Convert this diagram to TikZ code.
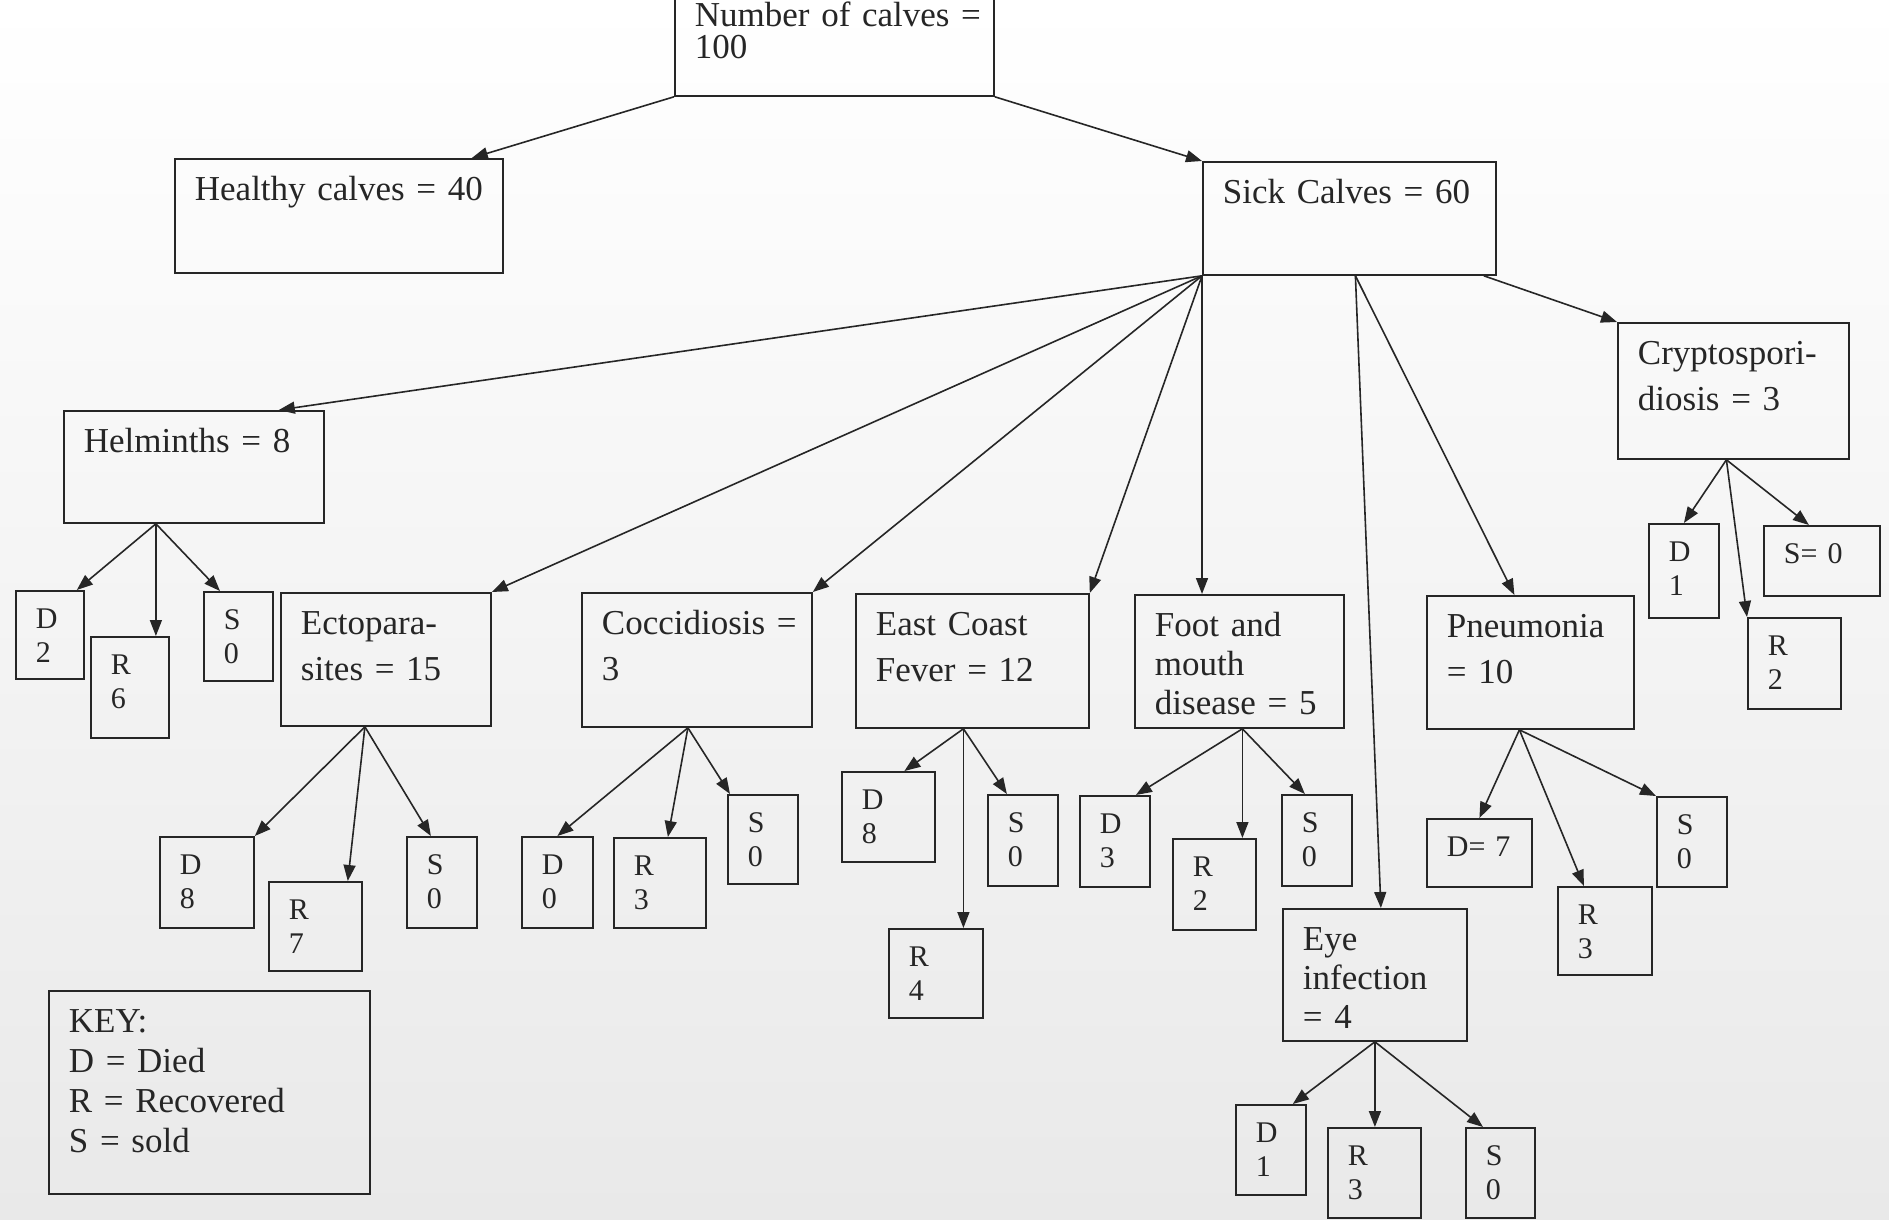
\documentclass[tikz,border=0pt]{standalone}
\usepackage{fontspec}
\setmainfont{Liberation Serif}
\usepackage{xcolor}
\definecolor{cInk}{HTML}{262626}
\definecolor{cPaper}{HTML}{E9E9E9}
\usepackage{tikz}
\usetikzlibrary{arrows.meta}
\newcommand{\boxfont}{\fontsize{35pt}{46pt}\selectfont}
\newcommand{\tallfont}{\fontsize{35pt}{39pt}\selectfont}
\newcommand{\keyfont}{\fontsize{35pt}{40pt}\selectfont}
\newcommand{\leaffont}{\fontsize{30pt}{34pt}\selectfont}
\newcommand{\rootfont}{\fontsize{35pt}{32pt}\selectfont}
\tikzset{
  node-box/.style 2 args={draw=cInk,line width=1.8pt,anchor=north west,
    align=left,inner xsep=20pt,inner ysep=12pt,text height=30pt,
    text width=#1,text depth=#2,font=\boxfont,text=cInk},
  node-leaf/.style 2 args={draw=cInk,line width=1.8pt,anchor=north west,
    align=left,inner xsep=20pt,inner ysep=10pt,text height=28pt,
    text width=#1,text depth=#2,font=\leaffont,text=cInk},
  arrow/.style={-{Triangle[length=16pt,width=12pt]},line width=1.6pt,draw=cInk},
}

\begin{document}
\begin{tikzpicture}[x=1pt,y=-1pt]
  \useasboundingbox (0,0) rectangle (1889,1220);
  \shade[top color=white,bottom color=cPaper] (0,0) rectangle (1889,1220);
  \clip (0,0) rectangle (1889,1220);

  % top levels
  \node[node-box={279pt}{57pt},text height=39pt,font=\rootfont] (root) at (674,-25) {Number~of~calves~=\\100};
  \node[node-box={288pt}{60pt}] (healthy) at (174,158) {Healthy calves = 40};
  \node[node-box={253pt}{59pt}] (sick)    at (1202,161) {Sick Calves = 60};

  % diseases
  \node[node-box={220pt}{58pt}] (helm)   at (63,410)   {Helminths = 8};
  \node[node-box={170pt}{79pt}] (ecto)   at (280,592)  {Ectopara-\\sites = 15};
  \node[node-box={190pt}{80pt}] (cocc)   at (581,592)  {Coccidiosis~=\\3};
  \node[node-box={193pt}{80pt}] (ecf)    at (855,593)  {East Coast\\Fever = 12};
  \node[node-box={169pt}{79pt},font=\tallfont] (fmd) at (1134,594) {Foot and\\mouth\\disease = 5};
  \node[node-box={167pt}{79pt}] (pneu)   at (1426,595) {Pneumonia\\= 10};
  \node[node-box={191pt}{82pt}] (crypto) at (1617,322) {Cryptospori-\\diosis = 3};
  \node[node-box={144pt}{78pt},font=\tallfont] (eye) at (1282,908) {Eye\\infection\\= 4};

  % outcomes
  \node[node-leaf={28pt}{40pt}] (hD) at (15,590)  {D\\2};
  \node[node-leaf={38pt}{53pt}] (hR) at (90,636)  {R\\6};
  \node[node-leaf={29pt}{41pt}] (hS) at (203,591) {S\\0};
  \node[node-leaf={54pt}{43pt}] (eD) at (159,836) {D\\8};
  \node[node-leaf={53pt}{41pt}] (eR) at (268,881) {R\\7};
  \node[node-leaf={30pt}{43pt}] (eS) at (406,836) {S\\0};
  \node[node-leaf={31pt}{43pt}] (cD) at (521,836) {D\\0};
  \node[node-leaf={52pt}{42pt}] (cR) at (613,837) {R\\3};
  \node[node-leaf={30pt}{41pt}] (cS) at (727,794) {S\\0};
  \node[node-leaf={53pt}{42pt}] (fD) at (841,771) {D\\8};
  \node[node-leaf={54pt}{41pt}] (fR) at (888,928) {R\\4};
  \node[node-leaf={30pt}{43pt}] (fS) at (987,794) {S\\0};
  \node[node-leaf={30pt}{43pt}] (mD) at (1079,795) {D\\3};
  \node[node-leaf={43pt}{43pt}] (mR) at (1172,838) {R\\2};
  \node[node-leaf={30pt}{43pt}] (mS) at (1281,794) {S\\0};
  \node[node-leaf={65pt}{20pt}] (pD) at (1426,818) {D= 7};
  \node[node-leaf={54pt}{40pt}] (pR) at (1557,886) {R\\3};
  \node[node-leaf={30pt}{42pt}] (pS) at (1656,796) {S\\0};
  \node[node-leaf={30pt}{42pt}] (yD) at (1235,1104) {D\\1};
  \node[node-leaf={53pt}{42pt}] (yR) at (1327,1127) {R\\3};
  \node[node-leaf={29pt}{42pt}] (yS) at (1465,1127) {S\\0};
  \node[node-leaf={30pt}{46pt}] (kD) at (1648,523) {D\\1};
  \node[node-leaf={53pt}{43pt}] (kR) at (1747,617) {R\\2};
  \node[node-leaf={76pt}{22pt}] (kS) at (1763,525) {S= 0};

  \node[node-box={281pt}{149pt},font=\keyfont] (key) at (48,990) {KEY:\\D = Died\\R = Recovered\\S = sold};

  % connectors
  \draw[arrow] (root.south west) -- ([xshift=-32pt]healthy.north east);
  \draw[arrow] (root.south east) -- (sick.north west);
  \draw[arrow] (sick.south west) -- ([xshift=-46pt]helm.north east);
  \draw[arrow] (sick.south west) -- (ecto.north east);
  \draw[arrow] (sick.south west) -- (cocc.north east);
  \draw[arrow] (sick.south west) -- (ecf.north east);
  \draw[arrow] (sick.south west) -- (sick.south west |- fmd.north);
  \draw[arrow] ([xshift=6pt]sick.south) -- ([xshift=6pt]eye.north);
  \draw[arrow] ([xshift=6pt]sick.south) -- ([xshift=-16pt]pneu.north);
  \draw[arrow] ([xshift=-13pt]sick.south east) -- (crypto.north west);

  \coordinate (helm-fan)   at ([xshift=-38pt]helm.south);
  \coordinate (ecto-fan)   at ([xshift=-21pt]ecto.south);
  \coordinate (cocc-fan)   at ([xshift=-9pt]cocc.south);
  \coordinate (ecf-fan)    at ([xshift=-9pt]ecf.south);
  \coordinate (fmd-fan)    at ([xshift=3pt]fmd.south);
  \coordinate (pneu-fan)   at ([xshift=-11pt]pneu.south);
  \coordinate (eye-fan)    at (eye.south);
  \coordinate (crypto-fan) at ([xshift=-7pt]crypto.south);

  \draw[arrow] (helm-fan) -- ([xshift=-8pt]hD.north east);
  \draw[arrow] (helm-fan) -- (helm-fan |- hR.north);
  \draw[arrow] (helm-fan) -- ([xshift=17pt]hS.north west);
  \draw[arrow] (ecto-fan) -- (eD.north east);
  \draw[arrow] (ecto-fan) -- ([xshift=-15pt]eR.north east);
  \draw[arrow] (ecto-fan) -- ([xshift=-11pt]eS.north);
  \draw[arrow] (cocc-fan) -- (cD.north);
  \draw[arrow] (cocc-fan) -- ([xshift=8pt]cR.north);
  \draw[arrow] (cocc-fan) -- ([xshift=3pt]cS.north west);
  \draw[arrow] (ecf-fan) -- ([xshift=16pt]fD.north);
  \draw[arrow] (ecf-fan) -- (ecf-fan |- fR.north);
  \draw[arrow] (ecf-fan) -- ([xshift=-16pt]fS.north);
  \draw[arrow] (fmd-fan) -- ([xshift=21pt]mD.north);
  \draw[arrow] (fmd-fan) -- (fmd-fan |- mR.north);
  \draw[arrow] (fmd-fan) -- ([xshift=-12pt]mS.north);
  \draw[arrow] (pneu-fan) -- (pD.north);
  \draw[arrow] (pneu-fan) -- ([xshift=-21pt]pR.north);
  \draw[arrow] (pneu-fan) -- (pS.north west);
  \draw[arrow] (eye-fan) -- ([xshift=-14pt]yD.north east);
  \draw[arrow] (eye-fan) -- (eye-fan |- yR.north);
  \draw[arrow] (eye-fan) -- ([xshift=18pt]yS.north west);
  \draw[arrow] (crypto-fan) -- (kD.north);
  \draw[arrow] (crypto-fan) -- (kR.north west);
  \draw[arrow] (crypto-fan) -- ([xshift=-13pt]kS.north);
\end{tikzpicture}
\end{document}
